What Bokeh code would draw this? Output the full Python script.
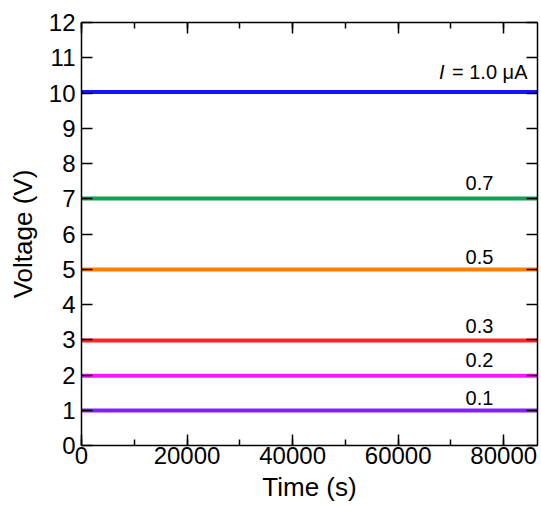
from bokeh.plotting import figure
from bokeh.models import (ColumnDataSource, LinearAxis, SingleIntervalTicker,
                          NumeralTickFormatter, Range1d)
from bokeh.core.properties import value
from bokeh.embed import file_html
from bokeh.resources import INLINE

# ---- data ----
time_s = [0, 86400]
current_uA = [1.0, 0.7, 0.5, 0.3, 0.2, 0.1]
voltage_V = [10.03, 7.01, 4.99, 2.98, 1.98, 0.99]
current_labels = ["= 1.0 \u03bcA", "0.7", "0.5", "0.3", "0.2", "0.1"]
series_colors = ["#1414ff", "#10a050", "#ff8000", "#ff2424", "#ff14ff", "#8020ff"]

FONT = "Liberation Sans"

p = figure(width=541, height=505, output_backend="svg", toolbar_location=None,
           x_range=Range1d(0, 86400), y_range=Range1d(0, 12),
           min_border_left=81, min_border_top=22, min_border_right=4,
           min_border_bottom=60, x_axis_label="Time (s)", y_axis_label="Voltage (V)")
p.xgrid.visible = False
p.ygrid.visible = False
p.outline_line_color = None
p.background_fill_color = "white"

p.xaxis.ticker = SingleIntervalTicker(interval=20000, num_minor_ticks=2)
p.yaxis.ticker = SingleIntervalTicker(interval=1, num_minor_ticks=0)
p.xaxis.formatter = NumeralTickFormatter(format="0")

def style_axis(ax, labels=True):
    ax.axis_line_color = "black"
    ax.axis_line_width = 1.5
    ax.major_tick_line_color = "black"
    ax.major_tick_line_width = 1.5
    ax.minor_tick_line_color = "black"
    ax.minor_tick_line_width = 1.5
    ax.major_tick_in = 11
    ax.major_tick_out = 0
    ax.minor_tick_in = 6
    ax.minor_tick_out = 0
    ax.major_label_text_font = FONT
    if labels:
        ax.major_label_text_color = "black"
        ax.major_label_text_font_size = "24px"
    else:
        ax.major_label_text_color = None
        ax.major_label_text_font_size = "1px"
        ax.major_label_standoff = 0
    ax.axis_label_text_font = FONT
    ax.axis_label_text_font_size = "26px"
    ax.axis_label_text_font_style = "normal"
    ax.axis_label_text_color = "black"

for ax in p.xaxis:
    style_axis(ax)
    ax.major_label_standoff = 1
    ax.axis_label_standoff = 5
for ax in p.yaxis:
    style_axis(ax)
    ax.major_label_standoff = 6
    ax.axis_label_standoff = 8

top = LinearAxis(ticker=SingleIntervalTicker(interval=20000, num_minor_ticks=2))
right = LinearAxis(ticker=SingleIntervalTicker(interval=1, num_minor_ticks=0))
style_axis(top, labels=False)
style_axis(right, labels=False)
p.add_layout(top, "above")
p.add_layout(right, "right")

# ---- traces ----
src = ColumnDataSource(dict(
    xs=[time_s for _ in voltage_V],
    ys=[[v] * len(time_s) for v in voltage_V],
    color=series_colors,
))
p.multi_line(xs="xs", ys="ys", line_color="color", line_width=4, source=src)

# ---- labels ----
label_x = [84500, 75400, 75400, 75400, 75400, 75400]
label_dy = [0.37, 0.23, 0.15, 0.20, 0.25, 0.17]
lab_src = ColumnDataSource(dict(
    x=label_x,
    y=[v + d for v, d in zip(voltage_V, label_dy)],
    text=current_labels,
    align=["right", "center", "center", "center", "center", "center"],
))
p.text(x="x", y="y", text="text", text_align="align", text_baseline="alphabetic",
       y_offset=-7, text_font=value(FONT), text_font_size="20px",
       text_color="black", source=lab_src)
# italic symbol I before the first label
p.text(x=[label_x[0]], y=[voltage_V[0] + label_dy[0]], text=["I"], x_offset=-83,
       y_offset=-7, text_align="right", text_baseline="alphabetic",
       text_font=value(FONT), text_font_style="italic", text_font_size="20px",
       text_color="black")

open("out.html", "w").write(file_html(p, INLINE))
